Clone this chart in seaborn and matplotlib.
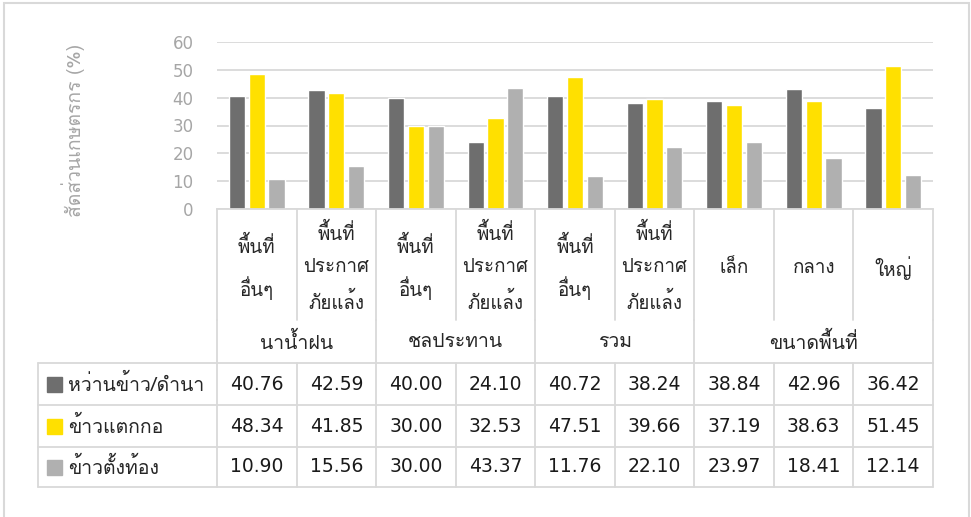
import matplotlib
matplotlib.use("Agg")
import matplotlib.pyplot as plt
import matplotlib.transforms as mtransforms
from matplotlib.patches import Rectangle
import seaborn as sns
import pandas as pd

groups = ["นาน้ำฝน", "ชลประทาน", "รวม", "ขนาดพื้นที่"]
group_sizes = [2, 2, 2, 3]
subcats = ["พื้นที่\nอื่นๆ", "พื้นที่\nประกาศ\nภัยแล้ง",
           "พื้นที่\nอื่นๆ", "พื้นที่\nประกาศ\nภัยแล้ง",
           "พื้นที่\nอื่นๆ", "พื้นที่\nประกาศ\nภัยแล้ง",
           "เล็ก", "กลาง", "ใหญ่"]
series = ["หว่านข้าว/ดำนา", "ข้าวแตกกอ", "ข้าวตั้งท้อง"]
sown = [40.76, 42.59, 40.00, 24.10, 40.72, 38.24, 38.84, 42.96, 36.42]
tillering = [48.34, 41.85, 30.00, 32.53, 47.51, 39.66, 37.19, 38.63, 51.45]
booting = [10.90, 15.56, 30.00, 43.37, 11.76, 22.10, 23.97, 18.41, 12.14]
colors = ["#6e6e6e", "#ffe000", "#b0b0b0"]

THAI = ["Loma", "DejaVu Sans"]
GRID = "#d9d9d9"
W, H = 971, 517

rows = []
for name, vals in zip(series, [sown, tillering, booting]):
    for i, v in enumerate(vals):
        rows.append({"col": str(i), "series": name, "value": v})
df = pd.DataFrame(rows)

sns.set_style("white")
fig = plt.figure(figsize=(W / 100, H / 100), dpi=100)
ax = fig.add_axes([217 / W, 1 - 209 / H, (933 - 217) / W, (209 - 42) / H])

sns.barplot(data=df, x="col", y="value", hue="series", order=[str(i) for i in range(9)],
            hue_order=series, palette=colors, width=0.745, gap=0.18,
            saturation=1, legend=False, ax=ax)

ax.set_xlim(-0.5, 8.5)
ax.set_ylim(0, 60)
ax.set_yticks(range(0, 61, 10))
ax.tick_params(axis="y", length=0, pad=17, labelsize=12, labelcolor="#a6a6a6")
ax.set_xticks([])
ax.set_xlabel("")
ax.yaxis.grid(True, color=GRID, lw=1.3)
ax.set_axisbelow(True)
for s in ["top", "right", "left"]:
    ax.spines[s].set_visible(False)
ax.spines["bottom"].set_color(GRID)
ax.spines["bottom"].set_linewidth(1.3)
ax.set_ylabel("สัดส่วนเกษตรกร (%)", family=THAI, fontsize=14, color="#a6a6a6")
ax.yaxis.set_label_coords(-0.184, 0.47)

# table below the plot: x follows the bar columns, y in figure pixels
tr = mtransforms.blended_transform_factory(ax.transData, fig.transFigure)
def fy(py):
    return 1 - py / H

LEFT = -2.75
sub_bottom, grp_bottom = 320, 363
row_lines = [363, 405, 447, 487]

def line(x0, x1, y0, y1):
    ax.plot([x0, x1], [fy(y0), fy(y1)], color=GRID, lw=1.3, transform=tr, clip_on=False)

# vertical lines
bounds = [i - 0.5 for i in range(10)]
group_edges = [-0.5]
for n in group_sizes:
    group_edges.append(group_edges[-1] + n)
for b in bounds:
    line(b, b, 209, sub_bottom)
    line(b, b, grp_bottom, row_lines[-1])
for b in group_edges:
    line(b, b, sub_bottom, grp_bottom)
line(LEFT, LEFT, row_lines[0], row_lines[-1])
for py in row_lines:
    line(LEFT, 8.5, py, py)

# category labels
for i, lab in enumerate(subcats):
    ax.text(i, fy(268), lab, transform=tr, ha="center", va="center", family=THAI,
            fontsize=13.5, linespacing=1.95)
start = -0.5
for g, n in zip(groups, group_sizes):
    ax.text(start + n / 2, fy(342), g, transform=tr, ha="center", va="center",
            family=THAI, fontsize=14)
    start += n

# data rows with legend keys
for r, (name, vals, c) in enumerate(zip(series, [sown, tillering, booting], colors)):
    yc = (row_lines[r] + row_lines[r + 1]) / 2
    fig.add_artist(Rectangle((47 / W, fy(yc + 7.5)), 15 / W, 15 / H,
                             transform=fig.transFigure, color=c))
    fig.text(68 / W, fy(yc), name, ha="left", va="center", family=THAI, fontsize=14)
    for i, v in enumerate(vals):
        ax.text(i, fy(yc), f"{v:.2f}", transform=tr, ha="center", va="center",
                fontsize=13.5, color="#1a1a1a")

# outer frame
fig.add_artist(Rectangle((4 / W, fy(530)), (969 - 4) / W, (530 - 3) / H,
                         transform=fig.transFigure, fill=False, ec=GRID, lw=1.5))

fig.savefig("out.png", dpi=100)
